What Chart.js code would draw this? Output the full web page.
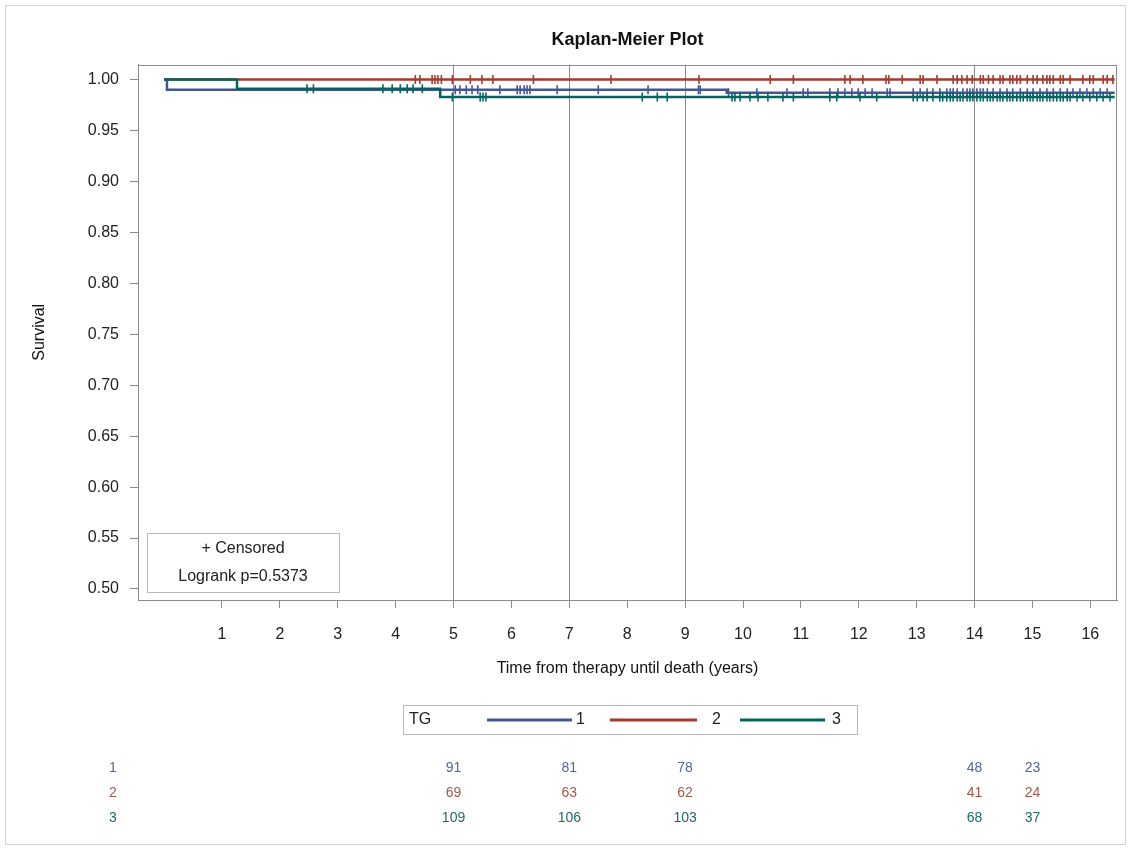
<!DOCTYPE html>
<html>
<head>
<meta charset="utf-8">
<title>Kaplan-Meier Plot</title>
<script src="https://cdn.jsdelivr.net/npm/chart.js@4.4.1/dist/chart.umd.min.js"></script>
<style>
  html, body { margin: 0; padding: 0; background: #fff; }
  canvas { display: block; }
</style>
</head>
<body>
<canvas id="km" width="1131" height="850"></canvas>
<script>
const groupNames = ['1', '2', '3'];
const lineColors = ['#445694', '#a23a2e', '#01665e'];
const tableColors = ['#56659a', '#a65843', '#1d6b65'];

// KM steps: event times and survival after each event
const timesTG1 = [0, 0.05, 9.72, 16.42];
const survTG1 = [1, 0.990, 0.987, 0.987];
const timesTG2 = [0, 16.42];
const survTG2 = [1, 1];
const timesTG3 = [0, 1.26, 4.77, 16.42];
const survTG3 = [1, 0.991, 0.983, 0.983];

// censored times (years)
const censorTG1 = [5.03, 5.11, 5.22, 5.32, 5.42, 5.80, 6.10, 6.15, 6.22, 6.27, 6.32, 6.79, 7.50, 8.36,
  9.23, 9.26, 9.75, 10.24, 10.76, 11.04, 11.12, 11.50, 11.64, 11.76, 11.88, 11.99, 12.11, 12.23,
  12.49, 12.54, 12.94, 13.06, 13.18, 13.28, 13.40, 13.52, 13.58, 13.63, 13.70, 13.80, 13.87, 13.92,
  13.97, 14.04, 14.10, 14.15, 14.22, 14.32, 14.44, 14.56, 14.66, 14.79, 14.91, 15.01, 15.13, 15.25,
  15.36, 15.48, 15.60, 15.70, 15.82, 15.94, 16.05, 16.17, 16.29];
const censorTG2 = [4.34, 4.42, 4.63, 4.68, 4.73, 4.79, 4.98, 5.29, 5.49, 5.68, 6.38, 7.72, 9.24, 10.47,
  10.87, 11.76, 11.85, 12.07, 12.47, 12.52, 12.75, 13.06, 13.11, 13.35, 13.63, 13.70, 13.78, 13.87,
  13.96, 14.10, 14.15, 14.24, 14.32, 14.44, 14.49, 14.61, 14.66, 14.73, 14.79, 14.91, 15.01, 15.08,
  15.18, 15.25, 15.30, 15.36, 15.48, 15.53, 15.65, 15.87, 15.99, 16.05, 16.22, 16.29, 16.39];
const censorTG3 = [2.47, 2.58, 3.78, 3.94, 4.08, 4.20, 4.30, 4.46, 4.98, 5.46, 5.51, 5.56, 8.26, 8.52,
  8.69, 9.81, 9.86, 9.95, 10.12, 10.26, 10.43, 10.69, 10.87, 11.50, 11.62, 12.02, 12.31, 12.94, 13.01,
  13.11, 13.18, 13.28, 13.40, 13.45, 13.52, 13.58, 13.63, 13.70, 13.75, 13.80, 13.87, 13.92, 13.97,
  14.04, 14.10, 14.15, 14.22, 14.27, 14.32, 14.39, 14.44, 14.49, 14.56, 14.61, 14.66, 14.73, 14.79,
  14.84, 14.91, 14.96, 15.01, 15.08, 15.13, 15.18, 15.25, 15.30, 15.36, 15.42, 15.48, 15.53, 15.60,
  15.65, 15.77, 15.87, 15.99, 16.11, 16.22, 16.34];

const xTicks = [1, 2, 3, 4, 5, 6, 7, 8, 9, 10, 11, 12, 13, 14, 15, 16];
const yTicks = [0.50, 0.55, 0.60, 0.65, 0.70, 0.75, 0.80, 0.85, 0.90, 0.95, 1.00];
const refLines = [5, 7, 9, 14];

// number at risk
const riskTimes = [5, 7, 9, 14, 15];
const riskTG1 = [91, 81, 78, 48, 23];
const riskTG2 = [69, 63, 62, 41, 24];
const riskTG3 = [109, 106, 103, 68, 37];

const FONT = '"Liberation Sans", Arial, sans-serif';

function survAt(times, surv, t) {
  let s = surv[0];
  for (let i = 0; i < times.length; i++) {
    if (times[i] <= t) s = surv[i];
  }
  return s;
}

const curves = [[timesTG1, survTG1], [timesTG2, survTG2], [timesTG3, survTG3]];
const censors = [censorTG1, censorTG2, censorTG3];
const risks = [riskTG1, riskTG2, riskTG3];

const datasets = [];
curves.forEach(([t, s], i) => {
  datasets.push({
    label: groupNames[i],
    data: t.map((v, j) => ({ x: v, y: s[j] })),
    showLine: true,
    stepped: true,
    borderColor: lineColors[i],
    borderWidth: 2.5,
    pointRadius: 0,
    order: 3 - i
  });
});
censors.forEach((c, i) => {
  const [t, s] = curves[i];
  datasets.push({
    label: 'censor ' + groupNames[i],
    data: c.map(v => ({ x: v, y: survAt(t, s, v) })),
    showLine: false,
    pointStyle: 'line',
    rotation: 90,
    pointRadius: 4.5,
    pointBorderWidth: 1.6,
    borderColor: lineColors[i],
    backgroundColor: lineColors[i],
    order: 3 - i
  });
});

const extras = {
  id: 'kmExtras',
  afterDraw(chart) {
    const ctx = chart.ctx;
    const a = chart.chartArea;
    const xs = chart.scales.x;
    ctx.save();

    // outer frame
    ctx.strokeStyle = '#d4d4d4';
    ctx.lineWidth = 1;
    ctx.strokeRect(5.5, 5.5, 1120, 839);

    // plot frame
    ctx.strokeStyle = '#8c8c8c';
    ctx.strokeRect(Math.round(a.left) + 0.5, Math.round(a.top) + 0.5,
      Math.round(a.right - a.left) - 1, Math.round(a.bottom - a.top));

    // censored / logrank box
    ctx.strokeStyle = '#b8b8b8';
    ctx.strokeRect(147.5, 533.5, 192, 59);
    ctx.fillStyle = '#222';
    ctx.font = '16px ' + FONT;
    ctx.textAlign = 'center';
    ctx.textBaseline = 'middle';
    ctx.fillText('+ Censored', 243, 549);
    ctx.fillText('Logrank p=0.5373', 243, 577);

    // legend
    ctx.strokeStyle = '#b8b8b8';
    ctx.strokeRect(403.5, 705.5, 454, 29);
    ctx.textAlign = 'left';
    ctx.fillText('TG', 409, 720);
    const legX = [[487, 572, 576], [610, 697, 712], [740, 825, 832]];
    legX.forEach((p, i) => {
      ctx.strokeStyle = lineColors[i];
      ctx.lineWidth = 3;
      ctx.beginPath();
      ctx.moveTo(p[0], 720);
      ctx.lineTo(p[1], 720);
      ctx.stroke();
      ctx.fillStyle = '#222';
      ctx.fillText(groupNames[i], p[2], 720);
    });

    // number at risk table
    ctx.font = '14px ' + FONT;
    ctx.textAlign = 'center';
    const rowY = [768, 793, 818];
    risks.forEach((r, i) => {
      ctx.fillStyle = tableColors[i];
      ctx.fillText(groupNames[i], 113, rowY[i]);
      riskTimes.forEach((t, j) => {
        ctx.fillText(String(r[j]), xs.getPixelForValue(t), rowY[i]);
      });
    });
    ctx.restore();
  }
};

new Chart(document.getElementById('km'), {
  type: 'scatter',
  data: { datasets },
  options: {
    responsive: false,
    animation: false,
    events: [],
    layout: { padding: { left: 0, top: 0, right: 14, bottom: 160 } },
    plugins: {
      legend: { display: false },
      tooltip: { enabled: false },
      title: {
        display: true,
        text: 'Kaplan-Meier Plot',
        fullSize: false,
        color: '#111',
        font: { family: FONT, size: 18, weight: 'bold' },
        padding: { top: 29, bottom: 14 }
      }
    },
    scales: {
      x: {
        type: 'linear',
        min: -0.45,
        max: 16.46,
        afterBuildTicks: s => { s.ticks = xTicks.map(v => ({ value: v })); },
        afterFit: s => { s.height = 90; },
        ticks: {
          color: '#222',
          padding: 17,
          font: { family: FONT, size: 16 },
          callback: v => String(v)
        },
        grid: {
          color: c => (c.tick && refLines.includes(c.tick.value)) ? '#8c8c8c' : 'rgba(0,0,0,0)',
          tickColor: '#8c8c8c',
          tickLength: 8,
          lineWidth: 1
        },
        border: { display: true, color: '#8c8c8c' },
        title: {
          display: true,
          text: 'Time from therapy until death (years)',
          color: '#111',
          font: { family: FONT, size: 16 },
          padding: { top: 0, bottom: 12 }
        }
      },
      y: {
        type: 'linear',
        min: 0.4892,
        max: 1.0147,
        afterBuildTicks: s => { s.ticks = yTicks.map(v => ({ value: v })); },
        afterFit: s => { s.width = 138; },
        ticks: {
          color: '#222',
          padding: 11,
          font: { family: FONT, size: 16 },
          callback: v => Number(v).toFixed(2)
        },
        grid: {
          color: 'rgba(0,0,0,0)',
          tickColor: '#8c8c8c',
          tickLength: 8,
          lineWidth: 1
        },
        border: { display: true, color: '#8c8c8c' },
        title: {
          display: true,
          text: 'Survival',
          color: '#111',
          font: { family: FONT, size: 16 },
          padding: { top: 30, bottom: 0 }
        }
      }
    }
  },
  plugins: [extras]
});
</script>
</body>
</html>
